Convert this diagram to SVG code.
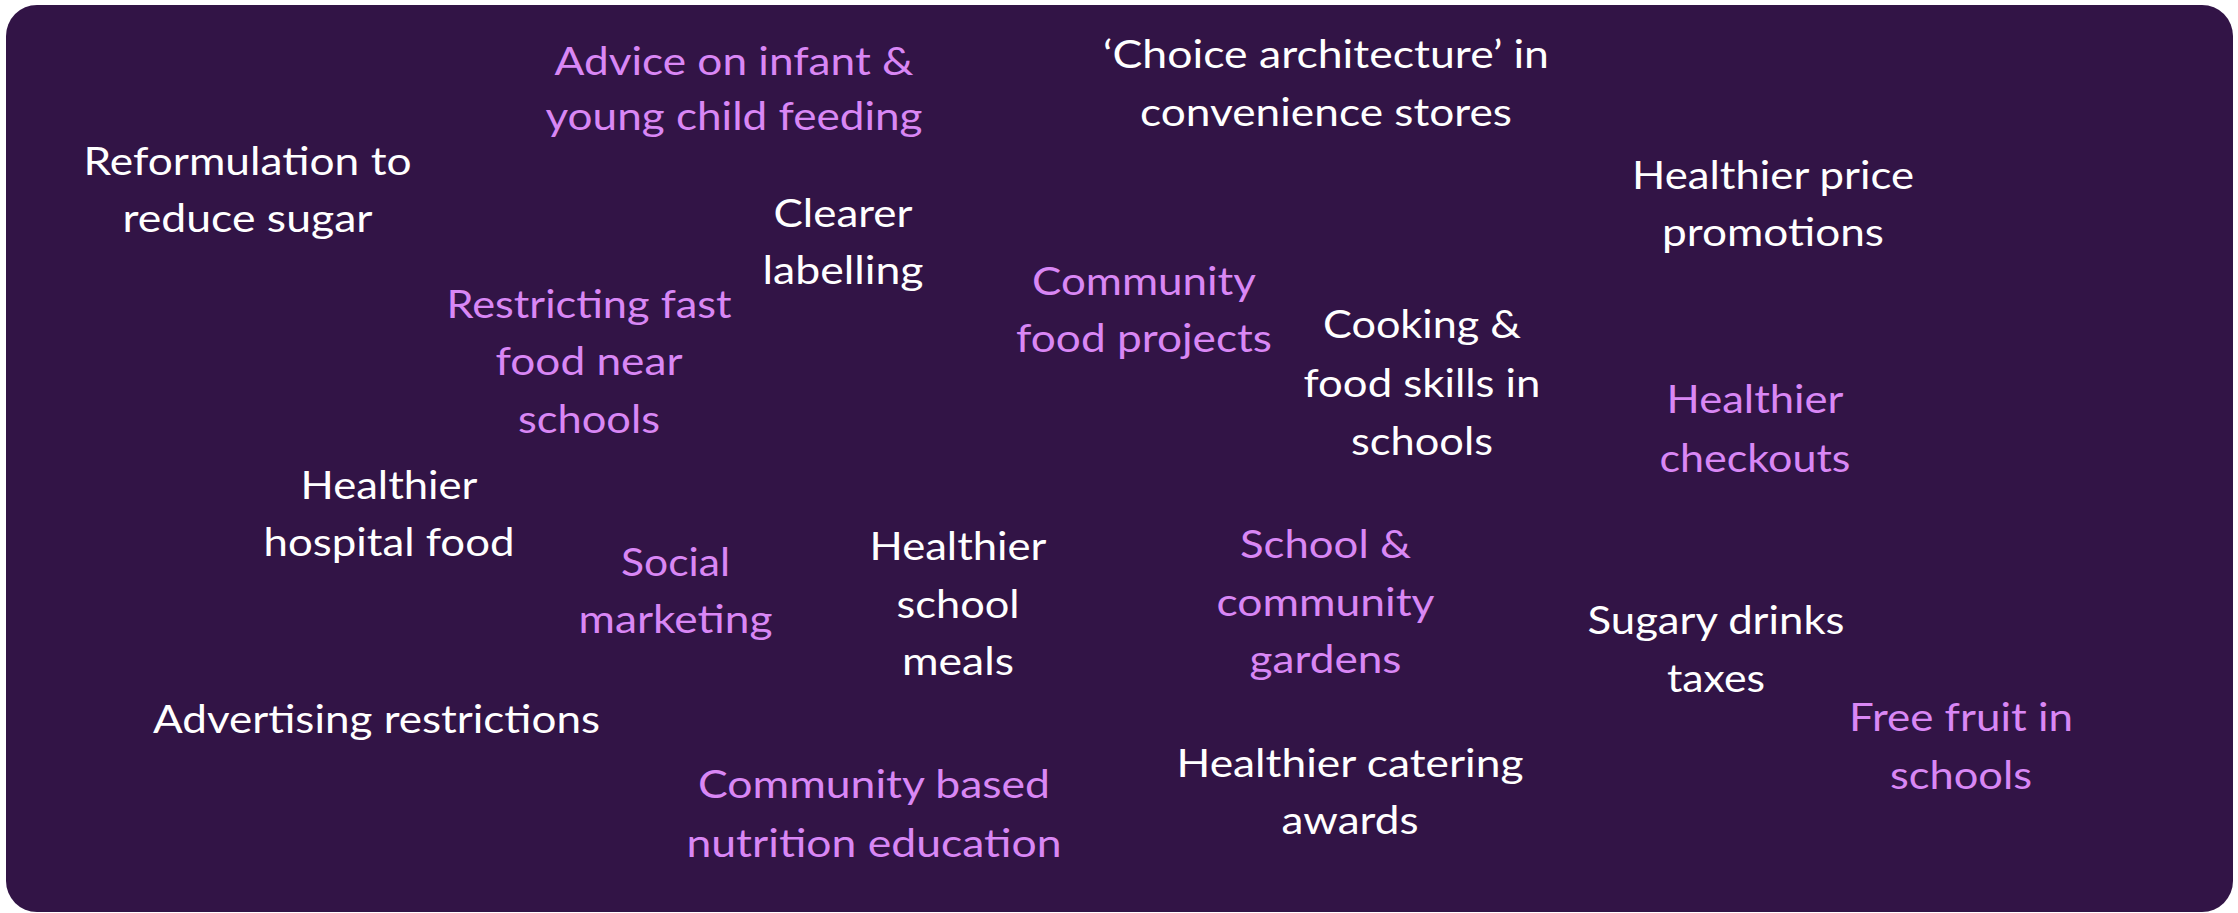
<svg xmlns="http://www.w3.org/2000/svg" width="2238" height="913" viewBox="0 0 2238 913">
  <style>
    .bg { fill: #321446; }
    text { font-family: Lato, "Open Sans", "Liberation Sans", sans-serif; font-size: 39px; text-anchor: middle; }
    .w { fill: #ffffff; }
    .p { fill: #d987f5; }
  </style>
  <rect width="2238" height="913" fill="#ffffff"/>
  <!-- panel -->
  <rect class="bg" x="6" y="5" width="2227" height="907" rx="31" ry="31"/>

  <g id="reformulation">
    <text class="w" x="247.5" y="175" textLength="328" lengthAdjust="spacingAndGlyphs">Reformulation to</text>
    <text class="w" x="247.5" y="232" textLength="250" lengthAdjust="spacingAndGlyphs">reduce sugar</text>
  </g>
  <g id="infant-feeding">
    <text class="p" x="734" y="75" textLength="359" lengthAdjust="spacingAndGlyphs">Advice on infant &amp;</text>
    <text class="p" x="734" y="130" textLength="377" lengthAdjust="spacingAndGlyphs">young child feeding</text>
  </g>
  <g id="choice-architecture">
    <text class="w" x="1326" y="68" textLength="446" lengthAdjust="spacingAndGlyphs">‘Choice architecture’ in</text>
    <text class="w" x="1326" y="126" textLength="372" lengthAdjust="spacingAndGlyphs">convenience stores</text>
  </g>
  <g id="labelling">
    <text class="w" x="843" y="227" textLength="139" lengthAdjust="spacingAndGlyphs">Clearer</text>
    <text class="w" x="843" y="284" textLength="161" lengthAdjust="spacingAndGlyphs">labelling</text>
  </g>
  <g id="price-promotions">
    <text class="w" x="1773" y="189" textLength="282" lengthAdjust="spacingAndGlyphs">Healthier price</text>
    <text class="w" x="1773" y="246" textLength="222" lengthAdjust="spacingAndGlyphs">promotions</text>
  </g>
  <g id="fast-food">
    <text class="p" x="589" y="318" textLength="285" lengthAdjust="spacingAndGlyphs">Restricting fast</text>
    <text class="p" x="589" y="375" textLength="187" lengthAdjust="spacingAndGlyphs">food near</text>
    <text class="p" x="589" y="433" textLength="142" lengthAdjust="spacingAndGlyphs">schools</text>
  </g>
  <g id="food-projects">
    <text class="p" x="1144" y="295" textLength="224" lengthAdjust="spacingAndGlyphs">Community</text>
    <text class="p" x="1144" y="352" textLength="256" lengthAdjust="spacingAndGlyphs">food projects</text>
  </g>
  <g id="cooking-skills">
    <text class="w" x="1422" y="338" textLength="198" lengthAdjust="spacingAndGlyphs">Cooking &amp;</text>
    <text class="w" x="1422" y="397" textLength="237" lengthAdjust="spacingAndGlyphs">food skills in</text>
    <text class="w" x="1422" y="455" textLength="142" lengthAdjust="spacingAndGlyphs">schools</text>
  </g>
  <g id="checkouts">
    <text class="p" x="1755" y="413" textLength="177" lengthAdjust="spacingAndGlyphs">Healthier</text>
    <text class="p" x="1755" y="472" textLength="191" lengthAdjust="spacingAndGlyphs">checkouts</text>
  </g>
  <g id="hospital-food">
    <text class="w" x="389" y="499" textLength="177" lengthAdjust="spacingAndGlyphs">Healthier</text>
    <text class="w" x="389" y="556" textLength="251" lengthAdjust="spacingAndGlyphs">hospital food</text>
  </g>
  <g id="social-marketing">
    <text class="p" x="675.5" y="576" textLength="109" lengthAdjust="spacingAndGlyphs">Social</text>
    <text class="p" x="675.5" y="633" textLength="194" lengthAdjust="spacingAndGlyphs">marketing</text>
  </g>
  <g id="school-meals">
    <text class="w" x="958" y="560" textLength="177" lengthAdjust="spacingAndGlyphs">Healthier</text>
    <text class="w" x="958" y="618" textLength="123" lengthAdjust="spacingAndGlyphs">school</text>
    <text class="w" x="958" y="675" textLength="112" lengthAdjust="spacingAndGlyphs">meals</text>
  </g>
  <g id="gardens">
    <text class="p" x="1325.5" y="558" textLength="171" lengthAdjust="spacingAndGlyphs">School &amp;</text>
    <text class="p" x="1325.5" y="616" textLength="218" lengthAdjust="spacingAndGlyphs">community</text>
    <text class="p" x="1325.5" y="673" textLength="152" lengthAdjust="spacingAndGlyphs">gardens</text>
  </g>
  <g id="sugary-drinks">
    <text class="w" x="1716" y="634" textLength="257" lengthAdjust="spacingAndGlyphs">Sugary drinks</text>
    <text class="w" x="1716" y="692" textLength="98" lengthAdjust="spacingAndGlyphs">taxes</text>
  </g>
  <g id="advertising">
    <text class="w" x="376.5" y="733" textLength="447" lengthAdjust="spacingAndGlyphs">Advertising restrictions</text>
  </g>
  <g id="free-fruit">
    <text class="p" x="1961" y="731" textLength="224" lengthAdjust="spacingAndGlyphs">Free fruit in</text>
    <text class="p" x="1961" y="789" textLength="142" lengthAdjust="spacingAndGlyphs">schools</text>
  </g>
  <g id="nutrition-education">
    <text class="p" x="874" y="798" textLength="352" lengthAdjust="spacingAndGlyphs">Community based</text>
    <text class="p" x="874" y="857" textLength="375" lengthAdjust="spacingAndGlyphs">nutrition education</text>
  </g>
  <g id="catering-awards">
    <text class="w" x="1350" y="777" textLength="347" lengthAdjust="spacingAndGlyphs">Healthier catering</text>
    <text class="w" x="1350" y="834" textLength="137" lengthAdjust="spacingAndGlyphs">awards</text>
  </g>
</svg>
